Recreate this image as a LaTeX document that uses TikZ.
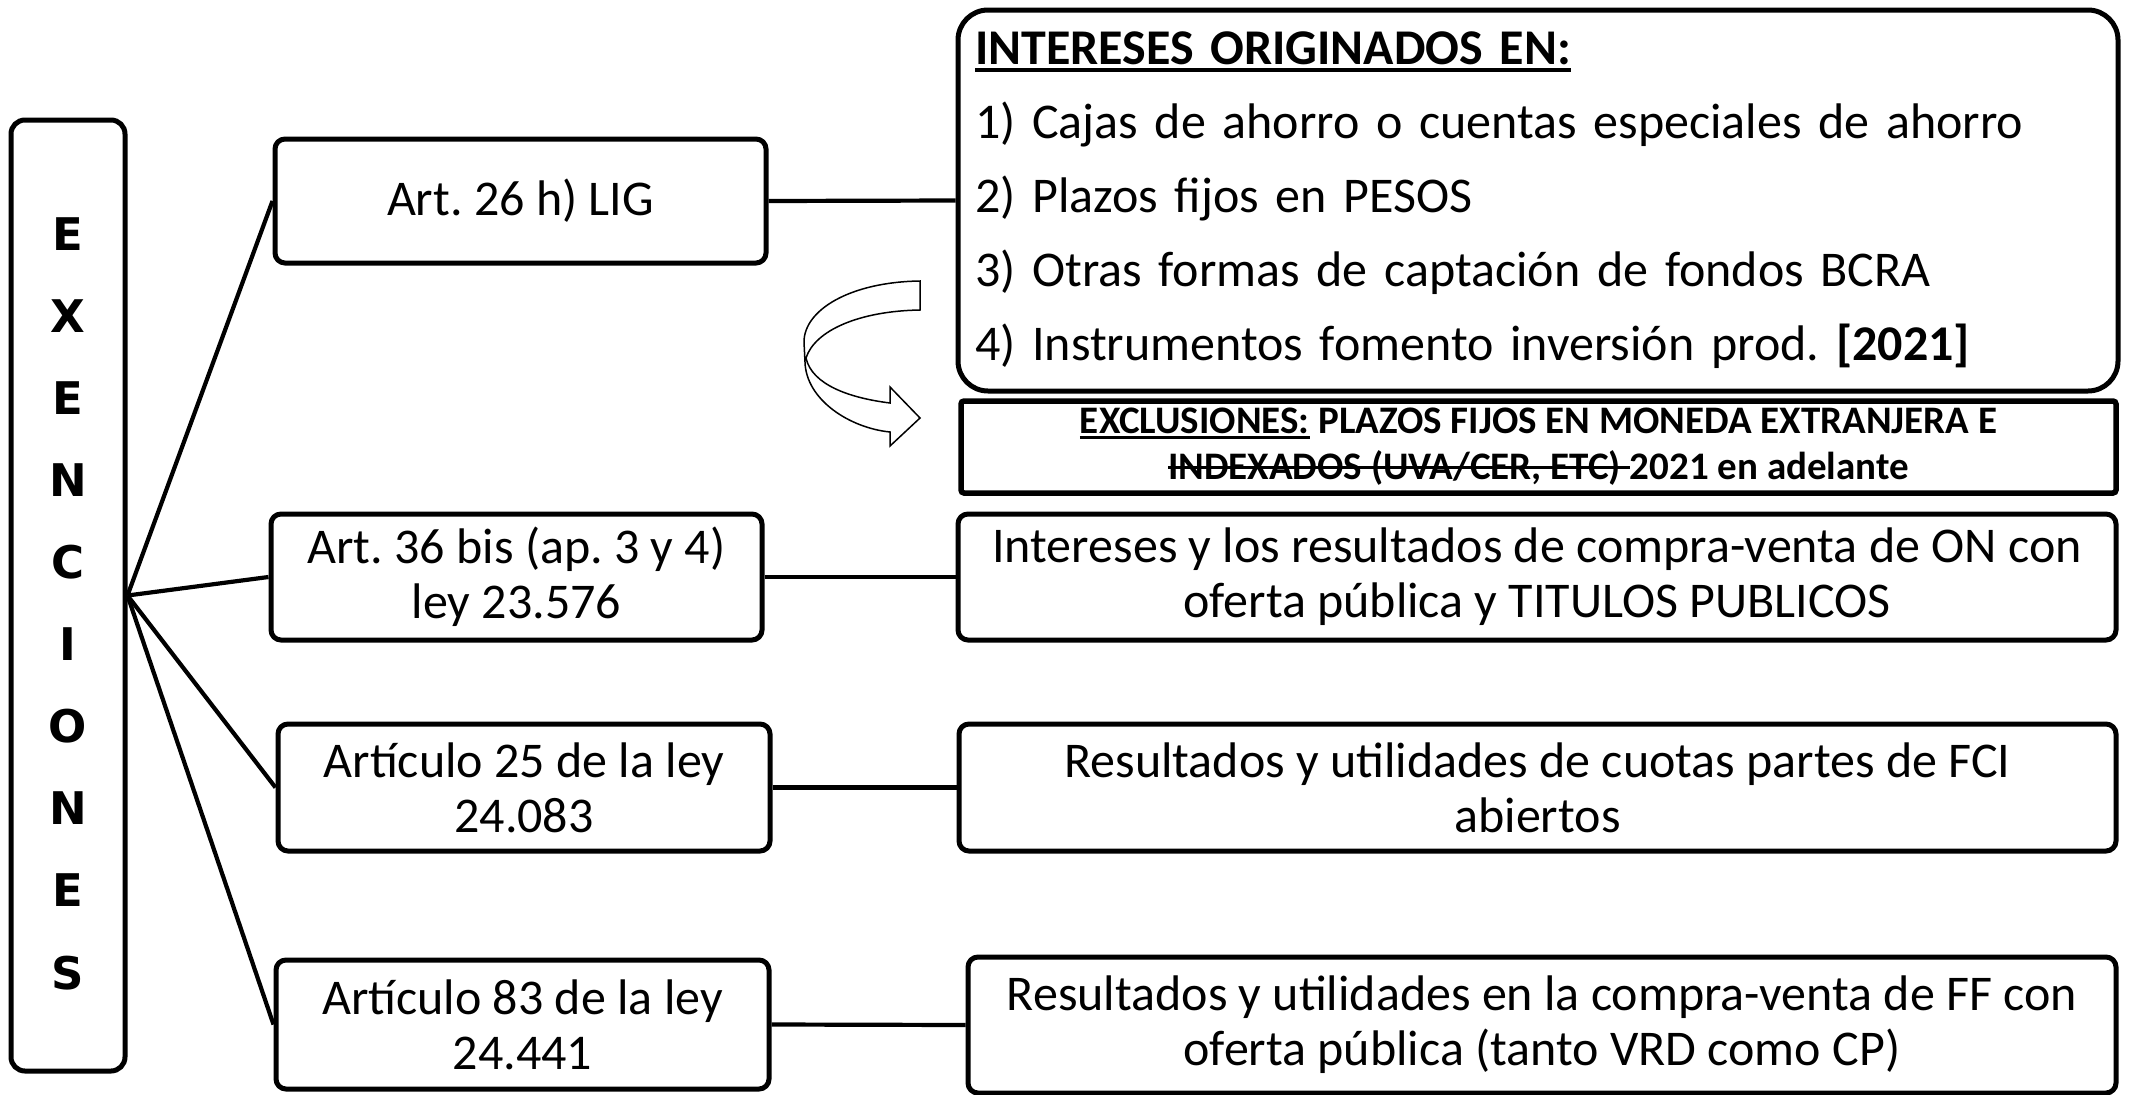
\documentclass[tikz,border=0pt]{standalone}
\usepackage{fontspec}
\setmainfont{Carlito}
\newfontfamily\exfont{DejaVu Sans}
\frenchspacing
\newsavebox\mybox
\newcommand\myul[2]{\sbox\mybox{#2}\rlap{\rule[-0.14em]{\wd\mybox}{#1}}\usebox\mybox}
\newcommand\mysout[1]{\sbox\mybox{#1}\rlap{\rule[0.28em]{\wd\mybox}{2.5pt}}\usebox\mybox}
\newcommand\mainfs{\fontsize{50}{55}\selectfont}
\begin{document}
\begin{tikzpicture}[x=1pt,y=-1pt,
  box/.style={draw, line width=5pt, rounded corners=10pt, align=center, inner sep=0pt, font=\mainfs},
  link/.style={line width=4.2pt}]
\useasboundingbox (0,0) rectangle (2134,1095);
% left column
\node[draw, line width=5pt, rounded corners=14pt, minimum width=114pt, minimum height=951pt] (lb) at (68,595.5) {};
\node[align=center, inner sep=0pt, font=\exfont\bfseries\fontsize{45}{82.1}\selectfont] (ex) at (68,603.5) {E\\X\\E\\N\\C\\I\\O\\N\\E\\S};
% middle boxes
\node[box, minimum width=491pt, minimum height=124pt] (b1) at (520.5,201) {Art. 26 h) LIG};
\node[box, minimum width=491pt, minimum height=126pt] (b2) at (516.5,577) {Art. 36 bis (ap. 3 y 4)\\ley 23.576};
\node[box, minimum width=492pt, minimum height=127pt] (b3) at (524,787.5) {Artículo 25 de la ley\\24.083};
\node[box, minimum width=493pt, minimum height=129pt] (b4) at (522.5,1024.5) {Artículo 83 de la ley\\24.441};
% right boxes
\node[draw, line width=5pt, rounded corners=30pt, minimum width=1160pt, minimum height=381pt,
  text width=1126pt, align=left, inner sep=17pt, font=\fontsize{50}{74}\selectfont] (big) at (1538,200.5)
  {\myul{4pt}{\bfseries INTERESES ORIGINADOS EN:}\\
   1) Cajas de ahorro o cuentas especiales de ahorro\\
   2) Plazos fijos en PESOS\\
   3) Otras formas de captación de fondos BCRA\\
   4) Instrumentos fomento inversión prod. \textbf{[2021]}};
\node[draw, line width=5.5pt, rounded corners=3pt, minimum width=1155pt, minimum height=92pt, align=center, inner sep=0pt,
  font=\bfseries\fontsize{39}{46}\selectfont] (exc) at (1538.5,447)
  {\myul{3pt}{EXCLUSIONES:} PLAZOS FIJOS EN MONEDA EXTRANJERA E\\\mysout{INDEXADOS (UVA/CER, ETC)\ }2021 en adelante};
\node[box, minimum width=1158pt, minimum height=126pt] (r2) at (1537,577) {Intereses y los resultados de compra-venta de ON con\\oferta pública y TITULOS PUBLICOS};
\node[box, minimum width=1157pt, minimum height=127pt] (r3) at (1537.5,787.5) {Resultados y utilidades de cuotas partes de FCI\\abiertos};
\node[box, minimum width=1148pt, minimum height=136pt] (r4) at (1542,1025) {Resultados y utilidades en la compra-venta de FF con\\oferta pública (tanto VRD como CP)};
% connectors
\draw[link] (lb.east) -- (b1.west);
\draw[link] (lb.east) -- (b2.west);
\draw[link] (lb.east) -- (b3.west);
\draw[link] (lb.east) -- (b4.west);
\draw[link] (b1.east) -- (big.west);
\draw[link] (b2.east) -- (r2.west);
\draw[link] (b3.east) -- (r3.west);
\draw[link] (b4.east) -- (r4.west);
% curved arrow
\draw[line width=1.5pt, fill=white, line join=miter]
  (920,281) .. controls (850,282) and (804,310) .. (804,342) -- (805,362)
  .. controls (806,400) and (850,428) .. (890,432) -- (890,446) -- (920,418) -- (890,387) -- (890,403)
  .. controls (850,398) and (812,385) .. (806,358)
  .. controls (815,330) and (860,311) .. (920,310) -- cycle;
\end{tikzpicture}
\end{document}
